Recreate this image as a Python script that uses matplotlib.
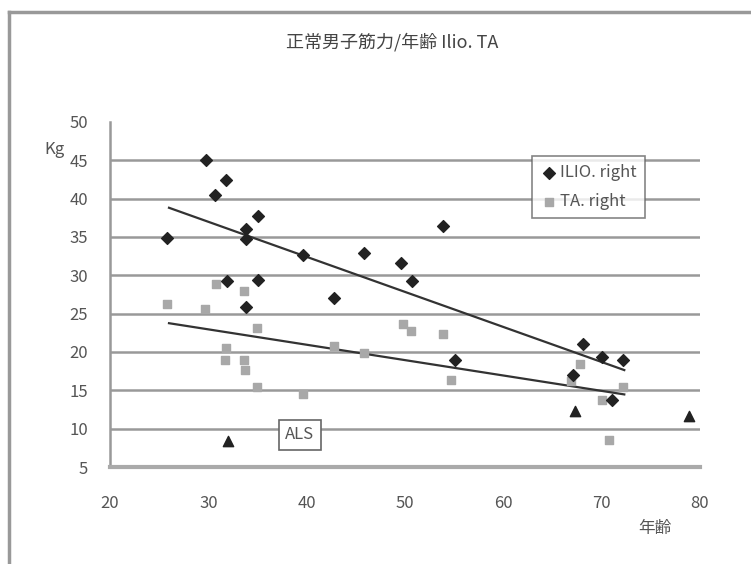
import matplotlib
matplotlib.use('Agg')
import matplotlib.pyplot as plt
import numpy as np

plt.rcParams['font.family'] = ['Noto Sans CJK JP', 'DejaVu Sans']

# ILIO right (diamonds)
ilio_age = [25.8, 29.8, 30.7, 31.8, 31.9, 33.8, 33.8, 33.8, 35.1, 35.0, 39.6, 42.8,
            45.8, 49.6, 50.7, 53.9, 55.1, 67.1, 68.1, 70.0, 71.0, 72.2]
ilio_kg = [34.9, 45.0, 40.5, 42.4, 29.3, 36.0, 34.7, 25.9, 37.7, 29.4, 32.7, 27.1,
           32.9, 31.6, 29.2, 36.4, 18.9, 17.0, 21.1, 19.4, 13.7, 19.0]

# TA right (squares)
ta_age = [25.8, 29.7, 30.8, 31.8, 31.7, 33.6, 33.6, 33.7, 34.9, 34.9, 39.6, 42.8,
          45.8, 49.8, 50.6, 53.9, 54.7, 66.9, 67.8, 70.0, 70.7, 72.2]
ta_kg = [26.2, 25.6, 28.9, 20.5, 19.0, 28.0, 18.9, 17.6, 23.1, 15.4, 14.5, 20.8,
         19.9, 23.7, 22.7, 22.3, 16.3, 16.2, 18.4, 13.8, 8.5, 15.4]

# ALS (triangles)
als_age = [32.0, 67.3, 78.9]
als_kg = [8.4, 12.3, 11.6]

fig = plt.figure(figsize=(7.51, 5.64), dpi=100)
ax = fig.add_axes([110/751, 1-467/564, 590/751, 345/564])

txt = '#555555'
for y in range(10, 50, 5):
    ax.axhline(y, color='#999999', lw=1.8, zorder=1)

ax.scatter(ilio_age, ilio_kg, marker='D', s=36, color='#222222', zorder=4, label='ILIO. right')
ax.scatter(ta_age, ta_kg, marker='s', s=28, color='#a8a8a8', zorder=3, label='TA. right')
ax.scatter(als_age, als_kg, marker='^', s=55, color='#222222', zorder=4)

# trend lines
xs = np.array([26.0, 72.3])
p1 = np.polyfit(ilio_age, ilio_kg, 1)
p2 = np.polyfit(ta_age, ta_kg, 1)
ax.plot(xs, np.polyval(p1, xs), color='#333333', lw=1.6, zorder=2)
ax.plot(xs, np.polyval(p2, xs), color='#333333', lw=1.6, zorder=2)

ax.set_xlim(20, 80)
ax.set_ylim(5, 50)
ax.set_xticks(range(20, 81, 10))
ax.set_yticks(range(5, 51, 5))
ax.tick_params(length=0, labelsize=12, colors=txt)
ax.tick_params(axis='x', pad=20)
ax.tick_params(axis='y', pad=16)
for s in ['top', 'right']:
    ax.spines[s].set_visible(False)
ax.spines['left'].set_color('#999999')
ax.spines['left'].set_linewidth(1.8)
ax.spines['bottom'].set_color('#aaaaaa')
ax.spines['bottom'].set_linewidth(3)

leg = ax.legend(loc='upper left', bbox_to_anchor=(422/590, 1-34/345), frameon=True,
                fancybox=False, edgecolor='#666666', fontsize=12, handletextpad=0.2,
                borderpad=0.5, labelspacing=0.7, handlelength=1.0, borderaxespad=0)
for t in leg.get_texts():
    t.set_color(txt)
leg.get_frame().set_linewidth(1.2)

ax.text(39.3, 9.2, 'ALS', ha='center', va='center', fontsize=12, color=txt,
        bbox=dict(boxstyle='square,pad=0.4', fc='white', ec='#666666', lw=1.2), zorder=5)

fig.text(44/751, 1-150/564, 'Kg', fontsize=12, color=txt, ha='left', va='center')
fig.text(655/751, 1-528/564, '年齢', fontsize=12, color=txt, ha='center', va='center')
fig.text(392/751, 1-42/564, '正常男子筋力/年齢 Ilio. TA', fontsize=13, color='#444444',
         ha='center', va='center')

# frame of the original picture
fig.add_artist(plt.Line2D([9/751, 9/751], [0, 1-12/564], color='#999999', lw=2.5))
fig.add_artist(plt.Line2D([9/751, 1], [1-12/564, 1-12/564], color='#999999', lw=2.5))

fig.savefig('out.png', dpi=100)
